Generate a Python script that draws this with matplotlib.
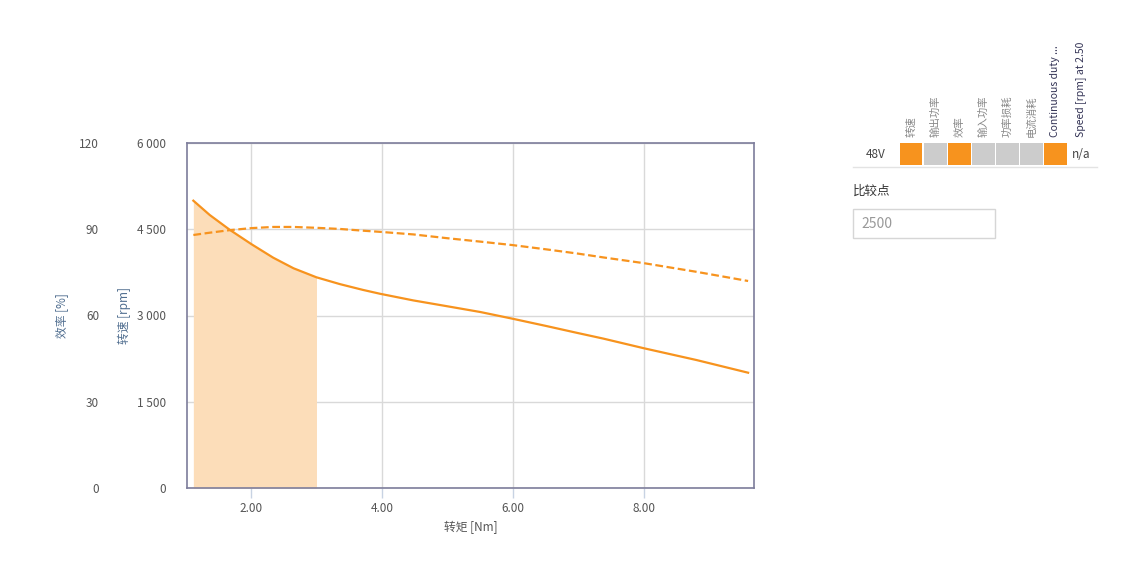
import numpy as np
import matplotlib.pyplot as plt
from matplotlib.patches import Rectangle
from matplotlib.lines import Line2D
from matplotlib.ticker import FuncFormatter

plt.rcParams['font.family'] = ['Noto Sans CJK SC', 'DejaVu Sans']

# torque [Nm] vs speed [rpm] (solid) and efficiency [%] (dashed)
torque = [1.12, 1.37, 1.68, 2.01, 2.34, 2.65, 3.00, 3.36, 3.71, 3.97, 4.48,
          4.99, 5.50, 5.99, 6.51, 6.97, 7.38, 8.00, 8.80, 9.59]
speed = [4997, 4748, 4487, 4238, 4005, 3821, 3664, 3545, 3445, 3378, 3262,
         3162, 3061, 2945, 2817, 2700, 2598, 2430, 2226, 2005]
efficiency = [88.0, 88.8, 89.7, 90.4, 90.8, 90.8, 90.5, 90.1, 89.5, 89.1, 88.2,
              86.9, 85.7, 84.5, 83.0, 81.6, 80.2, 78.2, 75.2, 72.0]
duty_limit = 3.0  # continuous duty range

speed_ticks = [0, 1500, 3000, 4500, 6000]
eff_ticks = [0, 30, 60, 90, 120]
torque_ticks = [2, 4, 6, 8]

legend_cols = ['转速', '输出功率', '效率', '输入功率', '功率损耗', '电流消耗', 'Continuous duty ...']
legend_on = [True, False, True, False, False, False, True]

orange = '#f7931e'
fill_col = '#fcddb9'
W, H = 1137, 585

fig = plt.figure(figsize=(W / 100, H / 100), dpi=100)
ax = fig.add_axes([187 / W, 1 - 488 / H, 567 / W, 345 / H])

t = np.array(torque)
s = np.array(speed)
m = t <= duty_limit + 1e-9
ax.fill_between(t[m], 0, s[m], color=fill_col, lw=0, zorder=1)
ax.plot(t, s, color=orange, lw=1.6, zorder=3)

ax.set_xlim(1.023, 9.68)
ax.set_ylim(0, 6000)
ax.set_xticks(torque_ticks)
ax.xaxis.set_major_formatter(FuncFormatter(lambda v, p: f'{v:.2f}'))
ax.set_yticks(speed_ticks)
ax.yaxis.set_major_formatter(FuncFormatter(lambda v, p: f'{int(v):,}'.replace(',', ' ')))
ax.grid(True, color='#d9d9d9', lw=1)
ax.set_axisbelow(True)
for sp in ax.spines.values():
    sp.set_color('#7d7d9b')
    sp.set_linewidth(1.2)
ax.tick_params(axis='x', length=7, width=1, color='#c8d3e3', pad=3,
               labelsize=8.5, labelcolor='#555555')
ax.tick_params(axis='y', length=0, pad=15, labelsize=8.5, labelcolor='#555555')
ax.set_xlabel('转矩 [Nm]', fontsize=8.5, color='#555555', labelpad=4)
ax.set_ylabel('转速 [rpm]', fontsize=8.5, color='#4f6d8f')
ax.yaxis.set_label_coords(-0.098, 0.5)

ax2 = ax.twinx()
ax2.plot(t, efficiency, color=orange, lw=1.6, dashes=(3.5, 1.6), zorder=3)
ax2.set_ylim(0, 120)
ax2.set_yticks(eff_ticks)
ax2.yaxis.set_ticks_position('left')
ax2.yaxis.set_label_position('left')
ax2.spines['left'].set_position(('axes', -88 / 567))
for sp in ax2.spines.values():
    sp.set_visible(False)
ax2.tick_params(axis='y', length=0, pad=0, labelsize=8.5, labelcolor='#555555')
ax2.set_ylabel('效率 [%]', fontsize=8.5, color='#4f6d8f')
ax2.yaxis.set_label_coords(-0.21, 0.5)


def fx(x):
    return x / W


def fy(y):
    return 1 - y / H


# legend table on the right
x0 = 900
for i, (name, on) in enumerate(zip(legend_cols, legend_on)):
    fig.patches.append(Rectangle((fx(x0 + i * 24), fy(165)), 22.5 / W, 22 / H,
                                 transform=fig.transFigure, lw=0,
                                 facecolor=orange if on else '#cccccc'))
    col = '#333355' if name.startswith('Cont') else '#888888'
    fig.text(fx(x0 + i * 24 + 11.5), fy(137), name, rotation=90, ha='center',
             va='bottom', fontsize=7.5, color=col)
fig.text(fx(1081), fy(137), 'Speed [rpm] at 2.50', rotation=90, ha='center',
         va='bottom', fontsize=7.5, color='#333355')
fig.text(fx(876), fy(154), '48V', ha='center', va='center', fontsize=8.5, color='#444444')
fig.text(fx(1081), fy(154), 'n/a', ha='center', va='center', fontsize=8.5, color='#444444')
fig.add_artist(Line2D([fx(853), fx(1097)], [fy(166.5), fy(166.5)],
                      transform=fig.transFigure, color='#e3e3e3', lw=1))

fig.text(fx(853), fy(191), '比较点', ha='left', va='center', fontsize=9, color='#333333')
fig.patches.append(Rectangle((fx(853), fy(238)), 142 / W, 29 / H,
                             transform=fig.transFigure, facecolor='white',
                             edgecolor='#d6d6d6', lw=1))
fig.text(fx(861), fy(224), '2500', ha='left', va='center', fontsize=10, color='#999999')

fig.savefig('out.png', dpi=100)
